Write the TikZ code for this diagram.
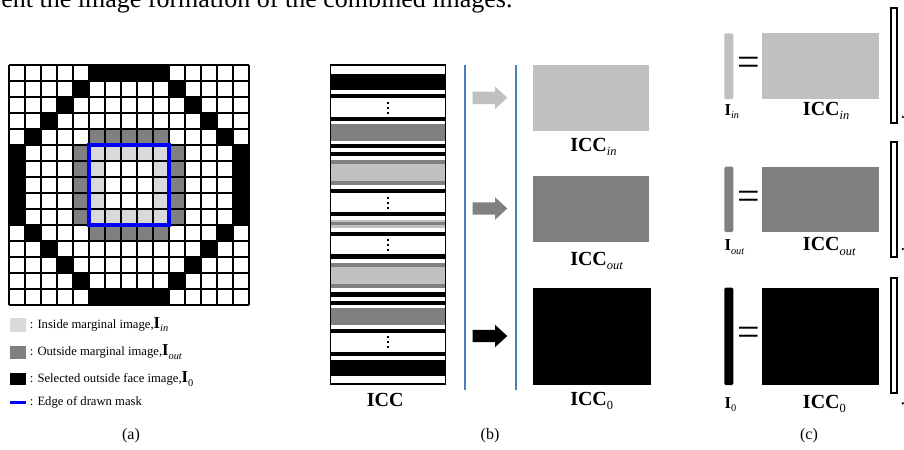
\documentclass[tikz,border=0pt]{standalone}
\usepackage{fontspec}
\setmainfont{Liberation Serif}
\usepackage{graphicx}
\usepackage{tikz}

\definecolor{lgray}{RGB}{217,217,217}
\definecolor{mgray}{RGB}{192,192,192}
\definecolor{dgray}{RGB}{128,128,128}
\definecolor{sepblue}{RGB}{74,126,187}
\definecolor{maskblue}{RGB}{0,0,255}

% bold letter(s) with a small, low subscript
\newcommand{\bsub}[2]{\textbf{#1}\raisebox{-0.22em}{\scalebox{0.62}{#2}}}

\tikzstyle{gridline}=[line width=1.5pt,
draw=black]
\tikzstyle{legtext}=[anchor=base west,
inner sep=0pt,
font=\fontsize{9.5}{11}\selectfont]
\tikzstyle{icclab}=[anchor=base west,
inner sep=0pt,
font=\fontsize{15}{17}\selectfont]
\tikzstyle{ilab}=[anchor=base west,
inner sep=0pt,
font=\fontsize{12.5}{14}\selectfont]
\tikzstyle{subcap}=[inner sep=0pt,
font=\fontsize{12}{14}\selectfont]
\tikzstyle{eqsign}=[inner sep=0pt,
font=\fontsize{30}{32}\selectfont]
\tikzstyle{vecbox}=[line width=1.3pt,
draw=black,
fill=white]

\begin{document}
\begin{tikzpicture}[x=0.75pt,y=-0.75pt]
	% one unit is one pixel of the 904x450 frame, y grows downwards
	\useasboundingbox (0,0) rectangle (904,450);
	\clip (0,0) rectangle (904,450);
	
	% Cut line of the running text above the figure
	\node (topline) [anchor=base west,inner sep=0pt,
	font=\fontsize{19.5}{22}\selectfont] at (1,7)
	{ent the image formation of the combined images.};
	
	% (a): 15x15 mask grid
	\foreach \c/\r in {5/0,6/0,7/0,8/0,9/0,4/1,10/1,3/2,11/2,2/3,12/3,
		1/4,13/4,0/5,0/6,0/7,0/8,0/9,14/5,14/6,14/7,14/8,14/9,
		1/10,13/10,2/11,12/11,3/12,11/12,4/13,10/13,5/14,6/14,7/14,8/14,9/14}
	\fill[black] (9+16*\c,65+16*\r) rectangle ++(16,16);
	\foreach \c/\r in {5/4,6/4,7/4,8/4,9/4,4/5,4/6,4/7,4/8,4/9,
		10/5,10/6,10/7,10/8,10/9,5/10,6/10,7/10,8/10,9/10}
	\fill[dgray] (9+16*\c,65+16*\r) rectangle ++(16,16);
	\foreach \c/\r in {5/5,6/5,7/5,8/5,9/5,5/9,6/9,7/9,8/9,9/9,
		5/6,5/7,5/8,9/6,9/7,9/8}
	\fill[lgray] (9+16*\c,65+16*\r) rectangle ++(16,16);
	\foreach \i in {0,...,15} {
		\draw[gridline] (9+16*\i,65) -- (9+16*\i,305);
		\draw[gridline] (9,65+16*\i) -- (249,65+16*\i);
	}
	\draw[maskblue,line width=2.4pt] (89,145) rectangle (169,225);
	
	% Legend of (a)
	\fill[lgray] (10,318) rectangle (26,332);
	\fill[dgray] (10,346) rectangle (26,359);
	\fill[black] (10,373) rectangle (26,385);
	\draw[maskblue,line width=2.2pt] (10,402.5) -- (26,402.5);
	\node (legIn) [legtext] at (29.5,328.3)
	{: Inside marginal image,{\fontsize{12.5}{14}\selectfont\bsub{I}{\textit{in}}}};
	\node (legOut) [legtext] at (29.5,355.5)
	{: Outside marginal image,{\fontsize{12.5}{14}\selectfont\bsub{I}{\textit{out}}}};
	\node (legSel) [legtext] at (29.5,382.7)
	{: Selected outside face image,{\fontsize{12.5}{14}\selectfont\bsub{I}{0}}};
	\node (legEdge) [legtext] at (29.5,405.5) {: Edge of drawn mask};
	\node (capA) [subcap] at (131,436) {(a)};
	
	% (b): the ICC column and its three parts
	\draw[fill=white,line width=1.1pt] (330.5,65) rectangle (445.5,384);
	\foreach \ya/\yb/\c in {74/90/black,94/98.3/black,116.7/121/black,
		124.3/141/dgray,144/148.3/black,151.7/156/black,160/164/dgray,
		164/180.7/mgray,180.7/185/dgray,189/193.3/black,211.7/216/black,
		219.5/221.5/mgray,221.5/225/dgray,225/228/mgray,231.7/236/black,
		254.3/259/black,262.7/266.7/dgray,266.7/284/mgray,284/288.3/dgray,
		292.3/296.7/black,301/305/black,308.3/325/dgray,329/333.3/black,
		351.7/355.7/black,360/376/black}
	\fill[\c] (331,\ya) rectangle (445,\yb);
	\foreach \y in {102.7,107.7,112.7,197.7,202.7,207.7,
		240,245,250,337.3,342.3,347.3}
	\fill[black] (387.2,\y-1.1) rectangle (389.4,\y+1.1);
	\node (iccLab) [icclab] at (366.7,406) {\textbf{ICC}};
	
	\draw[sepblue,line width=1.5pt] (465,65) -- (465,390);
	\draw[sepblue,line width=1.5pt] (515.7,65) -- (515.7,390);
	\foreach \y/\c in {97.8/mgray,208.5/dgray,336/black}
	\fill[\c] (472.7,\y-6.2) -- (495,\y-6.2) -- (495,\y-11.3) -- (507.3,\y)
	-- (495,\y+11.3) -- (495,\y+6.2) -- (472.7,\y+6.2) -- cycle;
	
	\fill[mgray] (532.7,65) rectangle (649.3,130.7);
	\fill[dgray] (532.7,176) rectangle (649.3,242.3);
	\fill[black] (533.3,287.7) rectangle (650.7,385);
	\node (iccInB) [icclab] at (570,151) {\bsub{ICC}{\textit{in}}};
	\node (iccOutB) [icclab] at (570,265) {\bsub{ICC}{\textit{out}}};
	\node (iccZeroB) [icclab] at (570,405) {\bsub{ICC}{0}};
	\node (capB) [subcap] at (490,436) {(b)};
	
	% (c): I = ICC for the three parts
	\fill[mgray,rounded corners=1pt] (724.3,33.3) rectangle (733.3,99);
	\fill[dgray,rounded corners=1pt] (724.3,166.7) rectangle (733.3,232);
	\fill[black,rounded corners=1pt] (724.3,287.7) rectangle (733.3,385);
	\node (eqIn) [eqsign] at (748.7,66.7) {=};
	\node (eqOut) [eqsign] at (748.7,200.5) {=};
	\node (eqZero) [eqsign] at (748.7,336.7) {=};
	\fill[mgray] (762.3,33.3) rectangle (879.3,99);
	\fill[dgray] (762.3,166.7) rectangle (879.3,232);
	\fill[black] (762.3,287.7) rectangle (879.3,385);
	\node (iIn) [ilab] at (724.3,115) {\bsub{I}{\textit{in}}};
	\node (iOut) [ilab] at (724.3,250.7) {\bsub{I}{\textit{out}}};
	\node (iZero) [ilab] at (724.3,408.3) {\bsub{I}{0}};
	\node (iccInC) [icclab] at (802.7,115) {\bsub{ICC}{\textit{in}}};
	\node (iccOutC) [icclab] at (802.7,250.7) {\bsub{ICC}{\textit{out}}};
	\node (iccZeroC) [icclab] at (802.7,408.3) {\bsub{ICC}{0}};
	\node (capC) [subcap] at (809,436) {(c)};
	
	% cut-off vectors at the right border
	\draw[vecbox] (891.3,8) rectangle (897,123);
	\draw[vecbox] (891.3,141.7) rectangle (897,257.3);
	\draw[vecbox] (891.3,278) rectangle (897,393);
	\fill[black] (902.8,117) circle (1.3);
	\fill[black] (902.8,249) circle (1.3);
	\fill[black] (902.8,403.3) circle (1.3);
\end{tikzpicture}
\end{document}
